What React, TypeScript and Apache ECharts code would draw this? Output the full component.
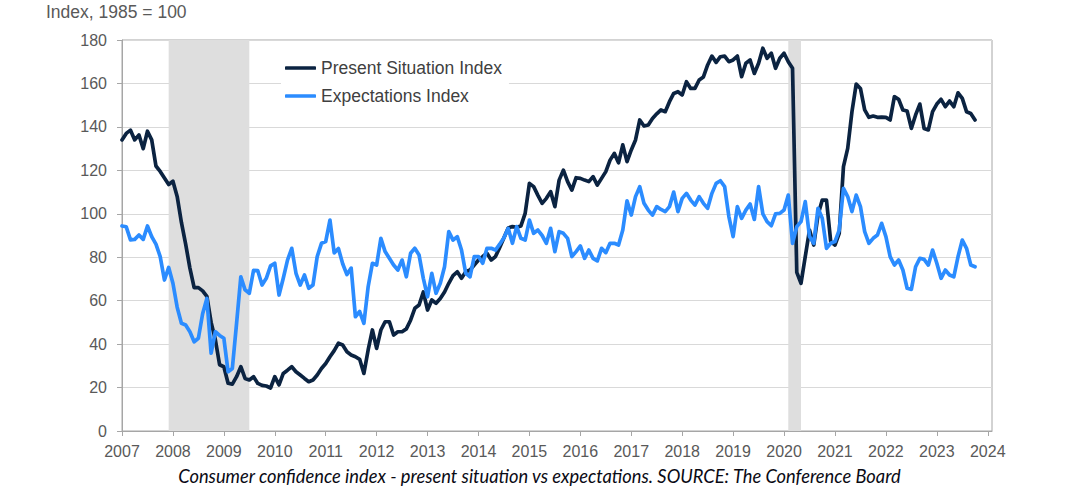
import React, { useEffect, useRef } from "react";
import * as echarts from "echarts";

// Monthly observations, Jan 2007 .. Oct 2023
const presentSituation: number[] = [
  134, 137, 138.5, 134, 136.3, 130, 138, 134, 122, 119.5, 116.5, 113.5, // 2007
  115, 108, 96, 86, 75, 66, 66, 64.5, 62, 50, 42, 30.5, // 2008
  29.6, 22, 21.6, 25, 29.6, 24.2, 23.5, 25, 21.9, 21, 20.7, 19.8, // 2009
  25, 21.2, 26.5, 28, 29.6, 27.3, 25.8, 24.2, 22.7, 23.5, 25.8, 28.8, // 2010
  31.1, 34.2, 37, 40.4, 39.6, 36.5, 35, 34.2, 33, 26.5, 37.3, 46.5, // 2011
  38, 46.5, 50.3, 50.3, 44.2, 45.7, 45.7, 47, 51, 56.5, 58, 64, // 2012
  55.7, 60.3, 58.8, 61, 64, 68, 71.5, 73.3, 70.3, 73.3, 74.1, 76.4, // 2013
  78.7, 80.3, 81.8, 78.7, 80.3, 84.5, 89, 93.5, 94.1, 93.8, 94.4, 100.2, // 2014
  114, 112.5, 108.5, 104.8, 107.1, 110.2, 103.3, 115.5, 120.1, 114.8, 110.9, 116.6, // 2015
  116.3, 115.5, 114.8, 117.1, 113.2, 116.3, 119.4, 124.7, 127.8, 123.5, 131.7, 124, // 2016
  129.4, 134, 143.2, 140.4, 140.9, 143.9, 146, 147.8, 147, 151.6, 155.4, 156.2, // 2017
  154.7, 160.8, 157.7, 157.7, 161.6, 163, 168.5, 172.6, 169.7, 172.3, 172.6, 170, // 2018
  170.8, 172.6, 163.1, 169.3, 170.8, 164.6, 169.3, 176.2, 171.6, 173.9, 167, 171.6, // 2019
  173.9, 170, 167, 73, 68, 80.3, 92.5, 85.6, 99.4, 106.3, 106.3, 87.2, // 2020
  85.6, 91, 121.7, 130.1, 147, 159.7, 157.7, 147.8, 144.4, 145, 144.4, 144.5, // 2021
  144.4, 143.2, 153.9, 152.7, 147.8, 147.3, 139.3, 145.5, 150.5, 139.3, 138.6, 147, // 2022
  150.5, 152.7, 149.3, 151.9, 149.3, 155.7, 153.1, 147, 146.2, 143.2, // 2023
];

const expectations: number[] = [
  94.4, 94, 88, 88.2, 90.2, 88.2, 94.4, 89.5, 86, 80.3, 69.5, 75.3, // 2007
  68, 57, 49.6, 48.8, 45.7, 41.1, 42.7, 54, 61, 35.8, 45.7, 44, // 2008
  42.7, 27.3, 28.8, 49.6, 71, 65, 63.4, 74, 73.8, 67.2, 70.3, 76, // 2009
  77.2, 62.6, 70.3, 78.7, 84.1, 72.6, 67.2, 71.8, 65.7, 67.2, 80.3, 86.4, // 2010
  87.2, 97.1, 82, 84, 77, 72, 75, 52.6, 55, 49.6, 66.4, 77.2, // 2011
  76.4, 88.7, 82.6, 79.5, 76.4, 74.1, 78.7, 71, 81.8, 84.1, 81, 70.3, // 2012
  61.8, 72.6, 63.4, 68, 75.6, 91.8, 87.9, 89.5, 83.3, 72.6, 71, 80.3, // 2013
  80.3, 77.2, 84.1, 84.1, 83.3, 86, 89, 93.3, 86.4, 94.1, 88.7, 87.9, // 2014
  97.1, 91, 92.5, 90, 86.4, 93.3, 82.6, 91.8, 91, 88.7, 80.3, 82.6, // 2015
  85.2, 79.5, 83.3, 79.5, 78.3, 84.1, 82.1, 86.4, 86.4, 85.6, 92.5, 106, // 2016
  99.4, 107.9, 112.5, 104.8, 101.7, 99.4, 103.3, 102, 101, 103.3, 110, 101, // 2017
  107.1, 109.4, 106.3, 104, 107.9, 104.8, 102.5, 109.4, 114, 115.2, 112.5, 98.7, // 2018
  89.5, 103.3, 97.9, 101.7, 104.5, 97.4, 112.5, 100, 96.4, 94.5, 100, 100.2, // 2019
  101.7, 108.6, 86.4, 94.1, 96.4, 105.6, 89.5, 86.4, 102.5, 97.9, 84.1, 86.4, // 2020
  87.2, 92.5, 111.7, 107.9, 101, 108.6, 103.3, 91.8, 86.4, 88.7, 90.2, 95.6, // 2021
  89.5, 80.3, 76.4, 78.7, 74.1, 65.7, 65.2, 75.6, 79.5, 79, 76.4, 83.3, // 2022
  77.2, 70.3, 74.1, 71.8, 71, 80.3, 87.9, 84.1, 76.4, 75.6, // 2023
];

const seriesNames = ["Present Situation Index", "Expectations Index"];
const recessions: [string, string][] = [
  ["2007-12", "2009-07"],
  ["2020-02", "2020-05"],
];
const axisStart = 2007;
const axisEndMonth = "2024-02";
const yMin = 0;
const yMax = 180;
const yStep = 20;

const months: string[] = [];
for (let y = axisStart; y <= 2024; y++) {
  for (let m = 1; m <= 12; m++) {
    const key = `${y}-${String(m).padStart(2, "0")}`;
    months.push(key);
    if (key === axisEndMonth) break;
  }
}

const GRID_COLOR = "#d9d9d9";
const AXIS_COLOR = "#a6a6a6";
const LABEL_COLOR = "#595959";

export default function App() {
  const ref = useRef<HTMLDivElement>(null);

  useEffect(() => {
    if (!ref.current) return;
    const chart = echarts.init(ref.current, undefined, { renderer: "svg" });
    const isJan = (i: number) => i % 12 === 0;
    chart.setOption({
      animation: false,
      backgroundColor: "#ffffff",
      textStyle: { fontFamily: "'Liberation Sans', Arial, sans-serif" },
      grid: {
        left: 122,
        right: 80,
        top: 40,
        bottom: 59,
        show: true,
        borderColor: AXIS_COLOR,
        borderWidth: 1,
      },
      legend: {
        data: seriesNames,
        orient: "vertical",
        left: 281,
        top: 53,
        padding: [6, 7, 6, 4],
        itemGap: 10,
        itemWidth: 31,
        itemHeight: 3.6,
        icon: "roundRect",
        backgroundColor: "#ffffff",
        textStyle: {
          fontSize: 17.5,
          color: "#404040",
          fontFamily: "'Liberation Sans', Arial, sans-serif",
        },
      },
      xAxis: {
        type: "category",
        data: months,
        boundaryGap: false,
        axisLine: { lineStyle: { color: AXIS_COLOR, width: 1 } },
        axisTick: { show: true, length: 5, interval: isJan, lineStyle: { color: AXIS_COLOR } },
        axisLabel: {
          interval: isJan,
          formatter: (v: string) => v.slice(0, 4),
          fontSize: 16,
          color: LABEL_COLOR,
          margin: 12,
        },
        splitLine: { show: false },
      },
      yAxis: {
        type: "value",
        min: yMin,
        max: yMax,
        interval: yStep,
        axisLine: { show: true, lineStyle: { color: AXIS_COLOR, width: 1 } },
        axisTick: { show: true, length: 5, lineStyle: { color: AXIS_COLOR } },
        axisLabel: { fontSize: 16, color: LABEL_COLOR, margin: 15 },
        splitLine: { show: true, lineStyle: { color: GRID_COLOR, width: 1 } },
      },
      graphic: [
        {
          type: "text",
          left: 46,
          top: 3,
          style: {
            text: "Index, 1985 = 100",
            fontSize: 17.5,
            fill: LABEL_COLOR,
            fontFamily: "'Liberation Sans', Arial, sans-serif",
          },
        },
        {
          type: "text",
          x: 539.5,
          y: 476,
          style: {
            text: "Consumer confidence index - present situation vs expectations. SOURCE: The Conference Board",
            fontSize: 18.3,
            fontStyle: "italic",
            fontFamily: "Lato, 'Open Sans', sans-serif",
            fill: "#0a0a14",
            align: "center",
            verticalAlign: "middle",
          },
        },
      ],
      series: [
        {
          name: "recessions",
          type: "line",
          data: [],
          silent: true,
          z: 1,
          markArea: {
            silent: true,
            itemStyle: { color: "#dedede" },
            data: recessions.map(([a, b]) => [{ xAxis: a }, { xAxis: b }]),
          },
        },
        {
          name: seriesNames[0],
          type: "line",
          data: presentSituation,
          symbol: "none",
          z: 3,
          itemStyle: { color: "#0b2341" },
          lineStyle: { color: "#0b2341", width: 3.7, cap: "round", join: "round" },
        },
        {
          name: seriesNames[1],
          type: "line",
          data: expectations,
          symbol: "none",
          z: 3,
          itemStyle: { color: "#2b8cff" },
          lineStyle: { color: "#2b8cff", width: 3.7, cap: "round", join: "round" },
        },
      ],
    });
    return () => chart.dispose();
  }, []);

  return (
    <div
      ref={ref}
      style={{ position: "fixed", left: 0, top: 0, width: 1072, height: 490, background: "#fff" }}
    />
  );
}
